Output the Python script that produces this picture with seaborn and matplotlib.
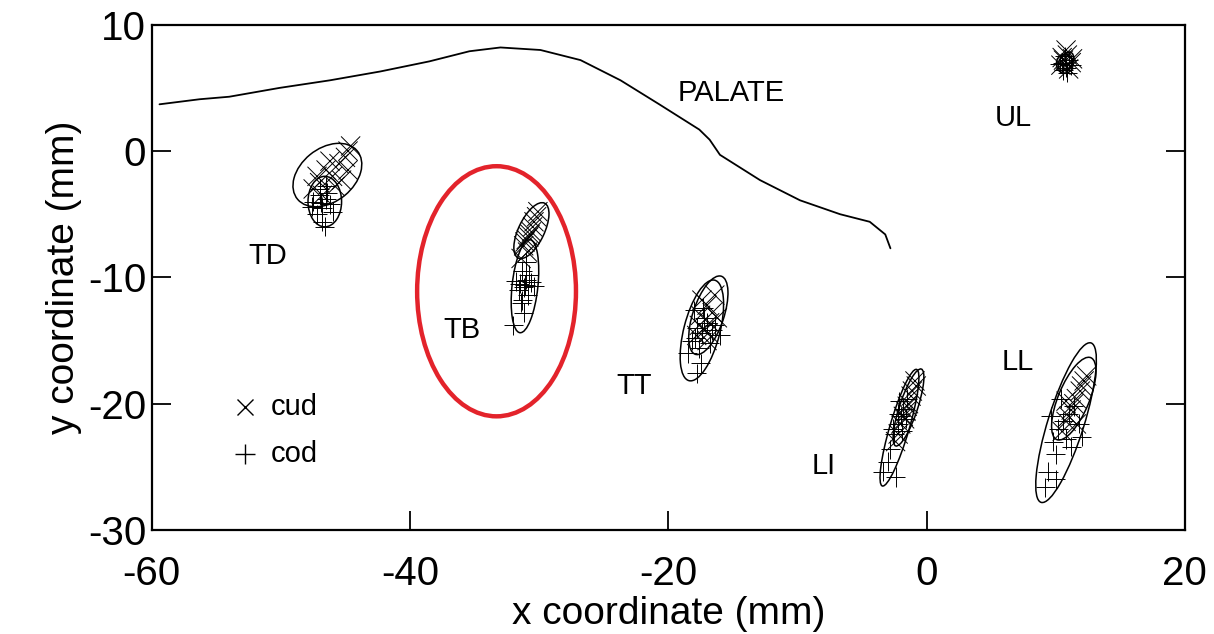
import matplotlib
matplotlib.use("Agg")
import matplotlib.pyplot as plt
from matplotlib.patches import Ellipse
import numpy as np
import pandas as pd
import seaborn as sns

# palate outline (mm)
palate_x = [-59.4, -56.3, -54.0, -50.1, -46.2, -42.3, -38.5, -35.4, -33.0, -29.9, -26.8,
            -23.7, -20.7, -17.6, -16.8, -16.0, -12.9, -9.8, -6.7, -4.4, -3.2, -2.8]
palate_y = [3.7, 4.1, 4.3, 5.0, 5.6, 6.3, 7.1, 7.9, 8.2, 8.0, 7.2,
            5.6, 3.7, 1.7, 0.9, -0.3, -2.3, -3.9, -5.0, -5.6, -6.6, -7.7]

# sensor positions, cud (x markers)
td_cud_x = [-47.5, -47, -46.5, -46, -45.5, -45, -44.8, -46.8, -45.8, -44.8, -47.2, -46.2, -45.3, -44.6]
td_cud_y = [-3, -2.5, -1.5, -2, -1, -0.5, 0.0, -3.5, -2.8, -1.5, -2, -0.8, -2.3, 0.4]
tb_cud_x = [-31.2, -30.8, -30.5, -30.2, -31, -30.6, -30.9, -31.4, -30.4, -30.1, -31.1, -30.7]
tb_cud_y = [-7.5, -6.8, -6, -5.2, -7, -6.4, -8, -8.5, -5.6, -4.8, -7.2, -6.6]
tt_cud_x = [-17.5, -17, -16.8, -16.4, -17.2, -17.8, -16.6, -17.4, -16.2, -17, -17.6, -16.9]
tt_cud_y = [-13, -12.2, -13.6, -11.4, -14.2, -14.6, -12.8, -11.8, -13.2, -15, -13.8, -14.4]
li_cud_x = [-1.8, -1.5, -1.2, -0.8, -2, -1.6, -1.1, -2.2, -1.4, -0.9, -1.7, -2.4]
li_cud_y = [-21, -20.2, -19.4, -18.6, -21.6, -20.6, -19, -22.4, -20, -18.2, -21.2, -23]
ll_cud_x = [11.2, 11.6, 12, 12.4, 10.8, 11.4, 11.9, 10.5, 11, 12.2, 11.6, 10.8]
ll_cud_y = [-20.5, -19.6, -18.6, -17.8, -21.4, -20, -19, -22.2, -21, -18.2, -21.6, -19.8]
ul_cud_x = [10.6, 10.9, 11.2, 10.4, 10.8, 11, 10.5, 11.3]
ul_cud_y = [7.2, 7.6, 7, 6.8, 8, 6.5, 7.4, 7.3]

# sensor positions, cod (+ markers)
td_cod_x = [-47.5, -47, -46.8, -46.5, -46.2, -47.2, -46.8, -46.5, -47, -46, -47.6, -46.4, -46.9, -46.6]
td_cod_y = [-4, -3.5, -4.5, -3.8, -4.2, -5, -5.6, -2.8, -3, -4.8, -4.4, -3.3, -4.1, -6.0]
tb_cod_x = [-31.5, -31, -31.2, -30.8, -31.6, -31.3, -30.9, -31.1, -31.4, -30.6, -31, -31.2, -32.0, -31.8, -30.4, -31.3]
tb_cod_y = [-10.5, -10.2, -10.8, -9.8, -11, -9.5, -11.4, -10.6, -12, -10.4, -8.8, -12.8, -13.8, -10.3, -10.7, -11.8]
tt_cod_x = [-17.8, -17.4, -17, -18.2, -16.6, -17.6, -17.2, -18, -16.4, -17.5, -18.5, -17.8, -16.8, -17.9, -17.3, -16]
tt_cod_y = [-14, -14.4, -13.6, -15, -14.2, -15.6, -13.2, -12.6, -13.8, -16.8, -16, -17.6, -15.2, -14.8, -12.4, -14.6]
li_cod_x = [-2, -2.2, -1.8, -2.5, -1.5, -2.8, -3, -2.2, -1.6, -2.6, -3.4, -2.1, -1.9, -2.4]
li_cod_y = [-21, -21.6, -20.4, -22.4, -19.6, -23.6, -24.6, -20.8, -21.2, -22, -25.4, -19.8, -22.2, -25.8]
ll_cod_x = [10.2, 10.6, 11, 9.8, 11.4, 10, 9.4, 10.8, 11.8, 9.2, 10.4, 11.2, 9.6, 10, 12]
ll_cod_y = [-22, -21.4, -20.8, -23, -20.2, -24, -25.4, -22.8, -21.6, -26.6, -19.6, -23.4, -21, -26, -22.6]
ul_cod_x = [10.5, 10.8, 11, 10.3, 10.9, 10.7, 11.2, 10.6]
ul_cod_y = [7, 6.6, 7.2, 6.9, 6.2, 7.5, 6.8, 6.4]

# spread ellipses: centre x, centre y, length, width, angle (deg)
ell_cud = [(-46.4, -1.9, 6.0, 4.2, 40), (-30.6, -6.3, 4.8, 2.0, 65), (-16.9, -13.0, 6.5, 2.4, 72),
           (-1.4, -20.3, 6.4, 1.4, 72), (11.4, -19.6, 7.0, 2.4, 68), (10.8, 7.1, 1.6, 1.0, 60)]
ell_cod = [(-46.6, -4.0, 4.0, 2.6, 90), (-31.1, -10.7, 7.4, 2.0, 84), (-17.4, -14.2, 8.2, 2.8, 76),
           (-2.1, -21.9, 9.6, 1.5, 74), (10.8, -21.5, 13.2, 2.8, 73), (10.7, 6.9, 1.5, 1.3, 90)]

labels = ["PALATE", "UL", "TD", "TB", "TT", "LI", "LL"]
label_x = [-19.3, 5.3, -52.5, -37.4, -24.0, -8.9, 5.8]
label_y = [4.6, 2.6, -8.3, -14.2, -18.6, -24.9, -16.7]

cud_x = td_cud_x + tb_cud_x + tt_cud_x + li_cud_x + ll_cud_x + ul_cud_x
cud_y = td_cud_y + tb_cud_y + tt_cud_y + li_cud_y + ll_cud_y + ul_cud_y
cod_x = td_cod_x + tb_cod_x + tt_cod_x + li_cod_x + ll_cod_x + ul_cod_x
cod_y = td_cod_y + tb_cod_y + tt_cod_y + li_cod_y + ll_cod_y + ul_cod_y
df = pd.DataFrame({"x": cud_x + cod_x, "y": cud_y + cod_y,
                   "cond": ["cud"] * len(cud_x) + ["cod"] * len(cod_x)})

sns.set_style("ticks")
plt.rcParams["font.family"] = ["Liberation Sans", "DejaVu Sans"]
plt.rcParams["axes.unicode_minus"] = False
for k in ["text.color", "axes.labelcolor", "xtick.color", "ytick.color", "axes.edgecolor"]:
    plt.rcParams[k] = "black"

fig = plt.figure(figsize=(12.14, 6.34), dpi=100)
ax = fig.add_axes([0.125, 0.164, 0.851, 0.797])

sns.lineplot(x=palate_x, y=palate_y, sort=False, estimator=None, color="black", lw=1.3, ax=ax)
sns.scatterplot(data=df, x="x", y="y", style="cond", markers={"cud": "x", "cod": "+"},
                color="black", s=190, linewidth=0.7, legend=False, ax=ax)

for cx, cy, w, h, a in ell_cud + ell_cod:
    ax.add_patch(Ellipse((cx, cy), w, h, angle=a, fill=False, ec="black", lw=1.1))

# highlight around TB
ax.add_patch(Ellipse((-33.3, -11.1), 12.3, 19.8, fill=False, ec="#e3232b", lw=3.2))

for t, lx, ly in zip(labels, label_x, label_y):
    ax.text(lx, ly, t, fontsize=21, va="center", ha="left")

# hand-drawn key
ax.plot([-52.8], [-20.3], marker="x", color="black", ms=12, mew=1.0)
ax.text(-50.8, -20.3, "cud", fontsize=21, va="center")
ax.plot([-52.8], [-24.0], marker="+", color="black", ms=15, mew=1.0)
ax.text(-50.8, -24.0, "cod", fontsize=21, va="center")

ax.set_xlim(-60, 20)
ax.set_ylim(-30, 10)
ax.set_xticks([-60, -40, -20, 0, 20])
ax.set_yticks([-30, -20, -10, 0, 10])
ax.tick_params(direction="in", length=14, width=1.3, labelsize=29,
               right=True, top=False)
ax.tick_params(axis="x", pad=18)
ax.tick_params(axis="y", pad=4)
for s in ax.spines.values():
    s.set_linewidth(1.6)
ax.set_xlabel("x coordinate (mm)", fontsize=28, labelpad=2)
ax.set_ylabel("y coordinate (mm)", fontsize=28, labelpad=4)

fig.savefig("out.png", dpi=100)
